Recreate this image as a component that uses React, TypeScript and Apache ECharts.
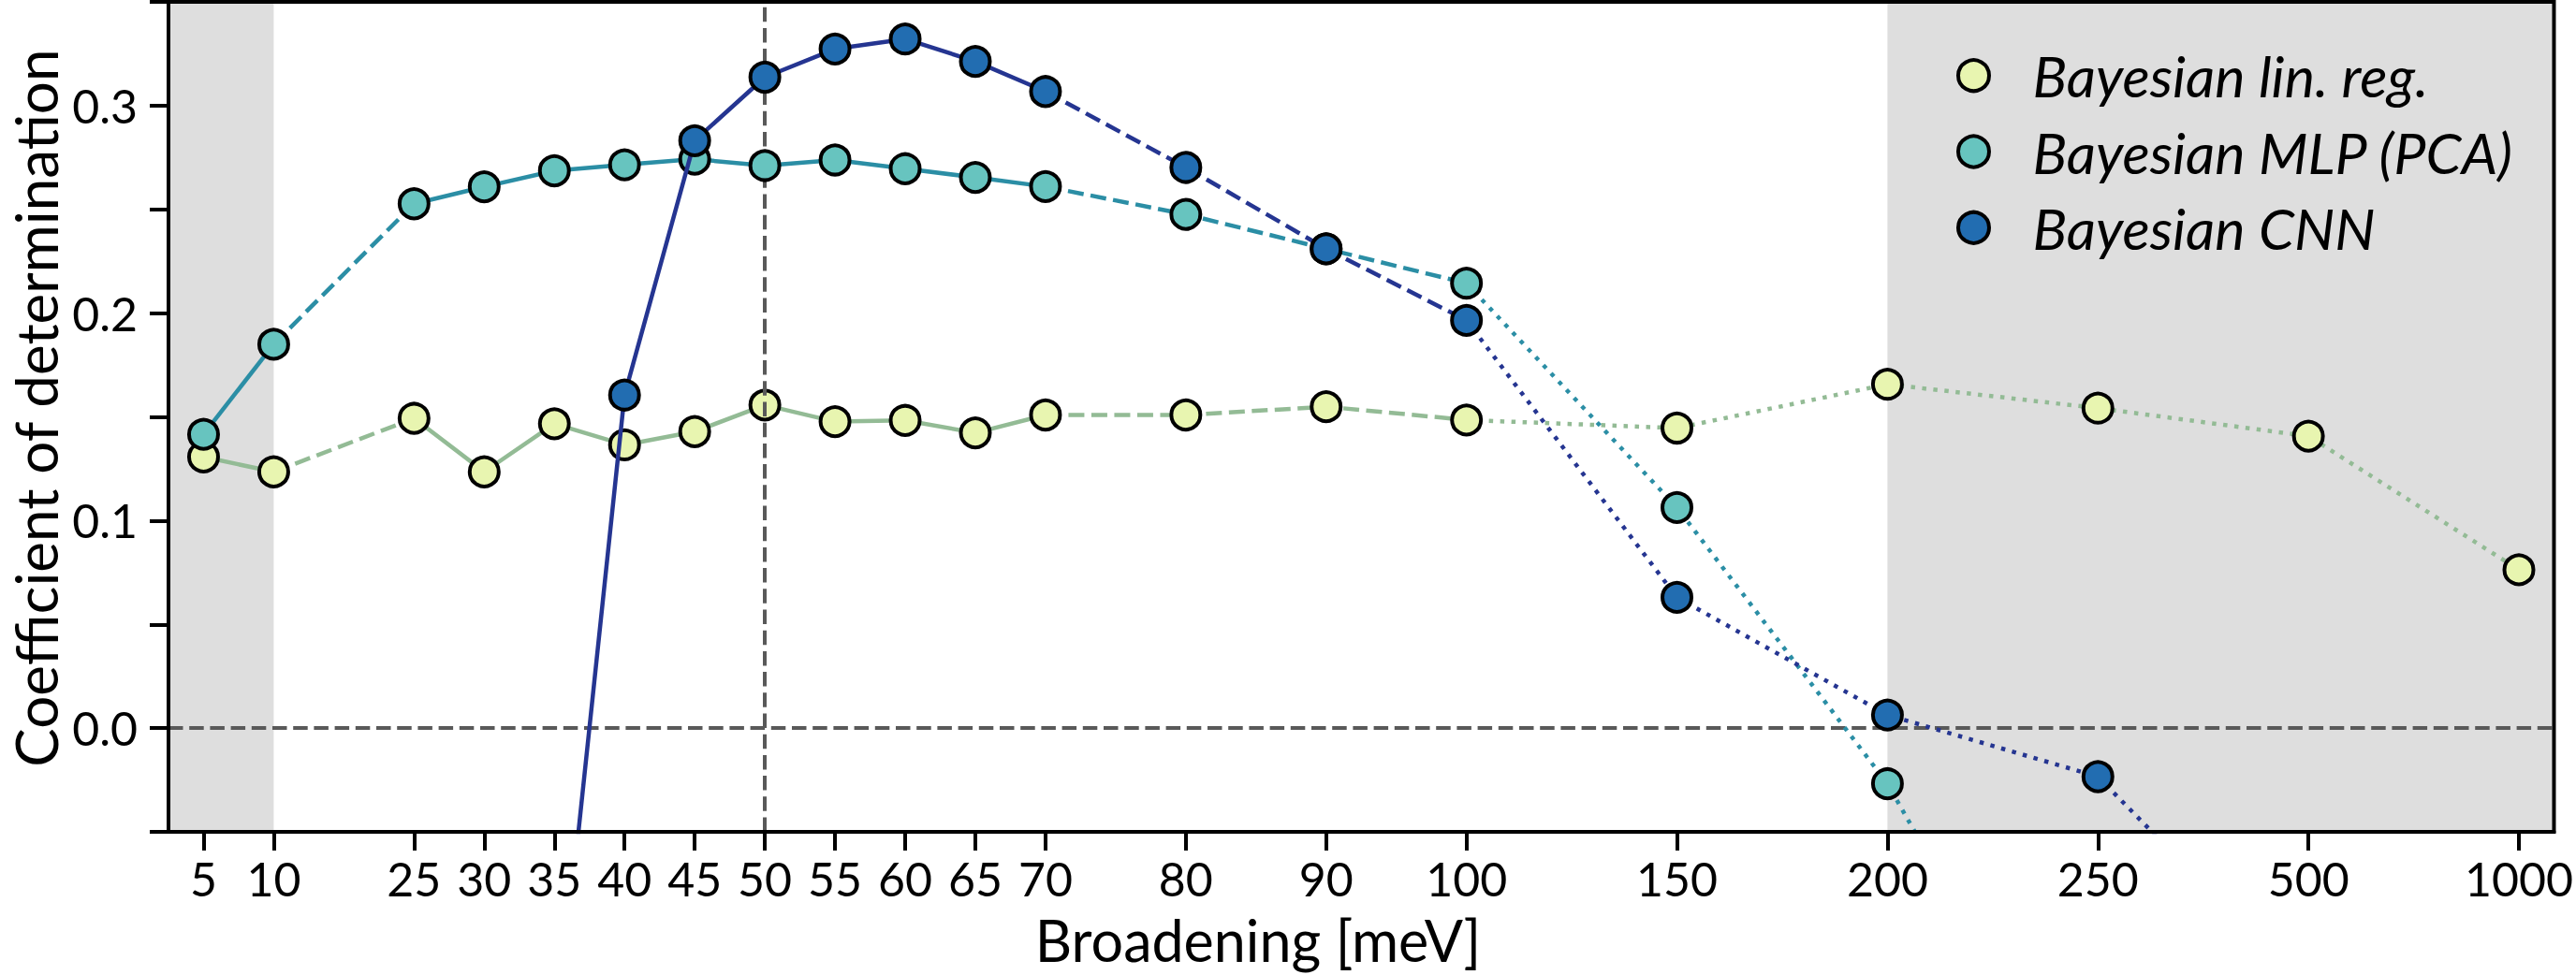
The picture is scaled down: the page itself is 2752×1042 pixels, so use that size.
import React, { useEffect, useRef } from "react";
import * as echarts from "echarts";

// Tick values on the broadening axis and the slot each one occupies on the (non-uniform) axis
const BROADENING_TICKS = [5, 10, 25, 30, 35, 40, 45, 50, 55, 60, 65, 70, 80, 90, 100, 150, 200, 250, 500, 1000];
const AXIS_SLOTS = [0, 1, 3, 4, 5, 6, 7, 8, 9, 10, 11, 12, 14, 16, 18, 21, 24, 27, 30, 33];
const X_MIN = -0.5;
const X_MAX = 33.5;

const Y_TICKS = [-0.05, 0, 0.05, 0.1, 0.15, 0.2, 0.25, 0.3, 0.35];
const Y_LABELS = [0, 0.1, 0.2, 0.3];

// Bayesian linear regression
const linRegX = [5, 10, 25, 30, 35, 40, 45, 50, 55, 60, 65, 70, 80, 90, 100, 150, 200, 250, 500, 1000];
const linRegY = [0.1307, 0.1235, 0.1493, 0.1235, 0.1467, 0.1365, 0.1429, 0.1557, 0.1477, 0.1483, 0.1423, 0.1509, 0.1509, 0.1549, 0.1485, 0.1446, 0.1657, 0.1542, 0.1407, 0.0763];

// Bayesian MLP (PCA)
const mlpX = [5, 10, 25, 30, 35, 40, 45, 50, 55, 60, 65, 70, 80, 90, 100, 150, 200, 250];
const mlpY = [0.1416, 0.185, 0.2527, 0.2609, 0.2686, 0.2715, 0.2742, 0.2711, 0.2738, 0.2696, 0.2654, 0.261, 0.2476, 0.231, 0.2144, 0.1063, -0.0268, -0.205];

// Bayesian CNN
const cnnX = [35, 40, 45, 50, 55, 60, 65, 70, 80, 90, 100, 150, 200, 250, 500];
const cnnY = [-0.16, 0.1605, 0.2831, 0.3137, 0.3273, 0.3321, 0.3213, 0.3068, 0.2702, 0.231, 0.1965, 0.063, 0.0063, -0.0234, -0.127];

// Shaded broadening ranges and reference lines
const SHADED_LEFT_END = 10;
const SHADED_RIGHT_START = 200;
const REF_BROADENING = 50;
const REF_R2 = 0;

const FONT = "Lato, 'DejaVu Sans', sans-serif";

const MODELS = [
  { name: "Bayesian lin. reg.", x: linRegX, y: linRegY, fill: "#e8f5b0", line: "#93bb95" },
  { name: "Bayesian MLP (PCA)", x: mlpX, y: mlpY, fill: "#67c4bf", line: "#2b8ea5" },
  { name: "Bayesian CNN", x: cnnX, y: cnnY, fill: "#226db1", line: "#253591" },
];

const slotOf = (b: number) => AXIS_SLOTS[BROADENING_TICKS.indexOf(b)];

const LW = 4.5;
const styleFor = (step: number): any => {
  if (step <= 5) return "solid";
  if (step <= 15) return [17, 7.5];
  return [LW, 7.5];
};

function buildSeries() {
  const series: any[] = [];
  // background helper: shaded regions
  series.push({
    name: "__shade",
    type: "line",
    data: [[X_MIN, 0], [X_MAX, 0]],
    symbol: "none",
    lineStyle: { width: 0, opacity: 0 },
    silent: true,
    z: 1,
    markArea: {
      silent: true,
      itemStyle: { color: "#dedede" },
      data: [
        [{ xAxis: X_MIN }, { xAxis: slotOf(SHADED_LEFT_END) }],
        [{ xAxis: slotOf(SHADED_RIGHT_START) }, { xAxis: X_MAX }],
      ],
    },
  });
  // reference lines
  series.push({
    name: "__ref",
    type: "line",
    data: [[X_MIN, 0], [X_MAX, 0]],
    symbol: "none",
    lineStyle: { width: 0, opacity: 0 },
    silent: true,
    z: 2,
    markLine: {
      silent: true,
      symbol: ["none", "none"],
      label: { show: false },
      lineStyle: { type: [15.5, 6.7], width: 4, color: "#595959" },
      data: [{ xAxis: slotOf(REF_BROADENING) }, { yAxis: REF_R2 }],
    },
  });

  MODELS.forEach((m, k) => {
    // group consecutive segments with the same line style
    let runStart = 0;
    const n = m.x.length;
    for (let i = 1; i < n; i++) {
      const st = styleFor(m.x[i] - m.x[i - 1]);
      const nextSt = i + 1 < n ? styleFor(m.x[i + 1] - m.x[i]) : null;
      if (i === n - 1 || JSON.stringify(nextSt) !== JSON.stringify(st)) {
        const pts: number[][] = [];
        for (let j = runStart; j <= i; j++) pts.push([slotOf(m.x[j]), m.y[j]]);
        series.push({
          name: `${m.name}-seg${runStart}`,
          type: "line",
          data: pts,
          symbol: "none",
          showSymbol: false,
          clip: true,
          silent: true,
          lineStyle: { color: m.line, width: LW, type: st, cap: "butt" },
          z: 3 + 2 * k,
        });
        runStart = i;
      }
    }
    series.push({
      name: m.name,
      type: "scatter",
      data: m.x.map((b, i) => [slotOf(b), m.y[i]]),
      symbol: "circle",
      symbolSize: 31,
      clip: true,
      itemStyle: { color: m.fill, borderColor: "#000", borderWidth: 4, opacity: 1 },
      z: 4 + 2 * k,
    });
  });
  return series;
}

export default function App() {
  const ref = useRef<HTMLDivElement>(null);
  useEffect(() => {
    if (!ref.current) return;
    const chart = echarts.init(ref.current, undefined, { renderer: "svg" });
    const labelOf = (v: number) => {
      const idx = AXIS_SLOTS.findIndex((s) => Math.abs(s - v) < 1e-6);
      return idx >= 0 ? String(BROADENING_TICKS[idx]) : "";
    };
    chart.setOption({
      animation: false,
      backgroundColor: "#ffffff",
      textStyle: { fontFamily: FONT },
      grid: {
        left: 180,
        top: 2,
        right: 15,
        bottom: 153,
        show: true,
        z: 10,
        borderWidth: 4,
        borderColor: "#000",
        backgroundColor: "rgba(0,0,0,0)",
      },
      xAxis: {
        type: "value",
        min: X_MIN,
        max: X_MAX,
        splitLine: { show: false },
        axisLine: { show: true, onZero: false, lineStyle: { color: "#000", width: 4 } },
        axisTick: {
          show: true,
          customValues: AXIS_SLOTS,
          length: 20,
          lineStyle: { color: "#000", width: 4 },
        },
        axisLabel: {
          customValues: AXIS_SLOTS,
          formatter: (v: number) => labelOf(v),
          fontSize: 50,
          fontFamily: FONT,
          color: "#000",
          margin: 25,
        },
        z: 10,
      },
      yAxis: {
        type: "value",
        min: -0.05,
        max: 0.35,
        splitLine: { show: false },
        axisLine: { show: true, onZero: false, lineStyle: { color: "#000", width: 4 } },
        axisTick: {
          show: true,
          customValues: Y_TICKS,
          length: 20,
          lineStyle: { color: "#000", width: 4 },
        },
        axisLabel: {
          customValues: Y_LABELS,
          formatter: (v: number) => v.toFixed(1),
          fontSize: 50,
          fontFamily: FONT,
          color: "#000",
          margin: 33,
        },
        z: 10,
      },
      legend: {
        data: MODELS.map((m) => m.name),
        orient: "vertical",
        left: 2090,
        top: 49.7,
        padding: 0,
        itemWidth: 116,
        itemHeight: 33,
        itemGap: 19.3,
        icon: "circle",
        selectedMode: false,
        itemStyle: { borderColor: "#000", borderWidth: 4 },
        textStyle: {
          fontFamily: FONT,
          fontStyle: "italic",
          fontSize: 61,
          lineHeight: 62,
          color: "#000",
          padding: 0,
        },
      },
      graphic: [
        {
          type: "text",
          x: 38,
          y: 436,
          rotation: Math.PI / 2,
          style: {
            text: "Coefficient of determination",
            fontFamily: FONT,
            fontSize: 62,
            lineHeight: 50,
            fill: "#000",
            align: "center",
            verticalAlign: "middle",
          },
        },
        {
          type: "text",
          x: 1344,
          y: 1004,
          style: {
            text: "Broadening [meV]",
            fontFamily: FONT,
            fontSize: 61,
            lineHeight: 60,
            fill: "#000",
            align: "center",
            verticalAlign: "middle",
          },
        },
      ],
      series: buildSeries(),
    });
    return () => chart.dispose();
  }, []);
  return (
    <div
      ref={ref}
      style={{ position: "fixed", left: 0, top: 0, width: 2752, height: 1042, background: "#fff" }}
    />
  );
}
